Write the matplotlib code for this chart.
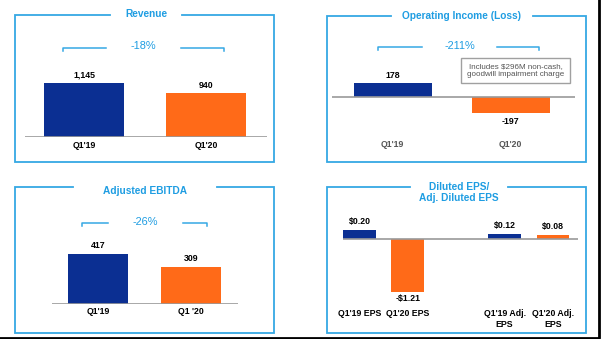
import matplotlib
matplotlib.use("Agg")
import matplotlib.pyplot as plt
from matplotlib.lines import Line2D
from matplotlib.patches import Rectangle

plt.rcParams['font.family'] = ['Liberation Sans', 'DejaVu Sans']

# figure size in pixels
W, H = 601, 339

# ---- data ----
rev_labels = ["Q1'19", "Q1'20"]
rev_values = [1145, 940]
rev_text = ["1,145", "940"]
rev_change = "-18%"

oi_labels = ["Q1'19", "Q1'20"]
oi_values = [178, -197]
oi_text = ["178", "-197"]
oi_change = "-211%"
oi_note = "Includes $296M non-cash,\ngoodwill impairment charge"

ebitda_labels = ["Q1'19", "Q1 '20"]
ebitda_values = [417, 309]
ebitda_text = ["417", "309"]
ebitda_change = "-26%"

eps_labels = ["Q1'19 EPS", "Q1'20 EPS", "Q1'19 Adj.\nEPS", "Q1'20 Adj.\nEPS"]
eps_values = [0.20, -1.21, 0.12, 0.08]
eps_text = ["$0.20", "-$1.21", "$0.12", "$0.08"]
eps_pos = [0, 1, 3, 4]

# ---- styles ----
NAVY = "#0b2f92"
ORANGE = "#ff6a18"
FRAME = "#35a8e4"
TITLE = "#1f9de2"
BASE = "#9a9a9a"

fig = plt.figure(figsize=(W / 100, H / 100), dpi=100)


def fx(x):
    return x / W


def fy(y):
    return 1 - y / H


def frame(x0, x1, top, bot, g0, g1, title, ty):
    xs = [g0, x0, x0, x1, x1, g1]
    ys = [top, top, bot, bot, top, top]
    fig.add_artist(Line2D([fx(v) for v in xs], [fy(v) for v in ys],
                          color=FRAME, lw=1.3, solid_joinstyle='miter'))
    fig.text(fx((g0 + g1) / 2), fy(ty), title, ha='center', va='center',
             color=TITLE, fontsize=7.3, fontweight='bold', linespacing=1.15)


def bracket(l0, l1, r0, r1, y, text, ty):
    fig.add_artist(Line2D([fx(l0), fx(l0), fx(l1)], [fy(y + 3), fy(y), fy(y)],
                          color=FRAME, lw=1.1))
    fig.add_artist(Line2D([fx(r0), fx(r1), fx(r1)], [fy(y), fy(y), fy(y + 3)],
                          color=FRAME, lw=1.1))
    fig.text(fx((l1 + r0) / 2), fy(ty), text, ha='center', va='center',
             color=TITLE, fontsize=7.9)


def panel(x0, x1, y_top, y_bot, base, scale, c0, c1, n_last):
    ax = fig.add_axes([fx(x0), fy(y_bot), (x1 - x0) / W, (y_bot - y_top) / H])
    ppu = (c1 - c0) / n_last
    ax.set_xlim((x0 - c0) / ppu, (x1 - c0) / ppu)
    ax.set_ylim(-(y_bot - base) / scale, (base - y_top) / scale)
    for s in ax.spines.values():
        s.set_visible(False)
    ax.set_yticks([])
    ax.tick_params(axis='x', length=0)
    ax.patch.set_alpha(0)
    ax.axhline(0, color=BASE, lw=1.2, zorder=3)
    return ax


def values(ax, xs, vals, texts, up=2.5, down=2.5):
    for x, v, t in zip(xs, vals, texts):
        if v >= 0:
            ax.annotate(t, (x, v), xytext=(0, up), textcoords='offset points',
                        ha='center', va='bottom', fontsize=6.3, fontweight='bold')
        else:
            ax.annotate(t, (x, v), xytext=(0, -down), textcoords='offset points',
                        ha='center', va='top', fontsize=6.3, fontweight='bold')


def cats(ax, xs, labels, pad, color='black'):
    ax.set_xticks(xs)
    ax.set_xticklabels(labels, fontsize=6.3, fontweight='bold', color=color,
                       linespacing=1.4)
    ax.tick_params(axis='x', pad=pad)


colors2 = [NAVY, ORANGE]
colors4 = [NAVY, ORANGE, NAVY, ORANGE]

# Revenue
frame(15, 274, 15, 162, 110, 182, "Revenue", 14)
bracket(63, 106, 181, 224, 48, rev_change, 46)
ax1 = panel(25, 267, 30, 137, 137, 0.0472, 84, 206, 1)
x1 = list(range(len(rev_values)))
ax1.bar(x1, rev_values, width=80 / 122, color=colors2, zorder=2)
values(ax1, x1, rev_values, rev_text, up=2.2)
cats(ax1, x1, rev_labels, 3.0)

# Operating income
frame(327, 586, 16, 162, 391, 533, "Operating Income (Loss)", 16)
bracket(378, 422, 497, 539, 47, oi_change, 46)
ax2 = panel(332, 575, 30, 136, 97, 0.0787, 392.5, 510.5, 1)
x2 = list(range(len(oi_values)))
ax2.bar(x2, oi_values, width=78 / 118, color=colors2, zorder=2)
values(ax2, x2, oi_values, oi_text, up=2.2, down=3.0)
cats(ax2, x2, oi_labels, 3.0, color='#555555')
fig.add_artist(Rectangle((fx(461), fy(83)), 109 / W, 25 / H, fill=False,
                         edgecolor='#a0a0a0', lw=1.0))
fig.text(fx(515.5), fy(70.5), oi_note, ha='center', va='center',
         color='#555555', fontsize=5.8, linespacing=1.3)

# Adjusted EBITDA
frame(15, 274, 187, 333, 73, 217, "Adjusted EBITDA", 191)
bracket(82, 108, 183, 207, 223, ebitda_change, 222)
ax3 = panel(52, 238, 200, 304, 304, 0.12, 98, 191, 1)
x3 = list(range(len(ebitda_values)))
ax3.bar(x3, ebitda_values, width=60 / 93, color=colors2, zorder=2)
values(ax3, x3, ebitda_values, ebitda_text, up=2.8)
cats(ax3, x3, ebitda_labels, 2.2)

# Diluted EPS
frame(327, 586, 187, 333, 410, 508, "Diluted EPS/\nAdj. Diluted EPS", 192.5)
ax4 = panel(343, 578, 205, 305, 239, 43.8, 359.5, 553, 4)
ax4.bar(eps_pos, eps_values, width=33 / 48.4, color=colors4, zorder=2)
values(ax4, eps_pos, eps_values, eps_text, up=3.0, down=1.8)
cats(ax4, eps_pos, eps_labels, 2.6)

# dark edge along the right and bottom of the slide
fig.add_artist(Line2D([fx(598.5), fx(598.5), fx(0)], [fy(0), fy(337.8), fy(337.8)],
                      color='black', lw=2.0))

fig.savefig("out.png", dpi=100)
